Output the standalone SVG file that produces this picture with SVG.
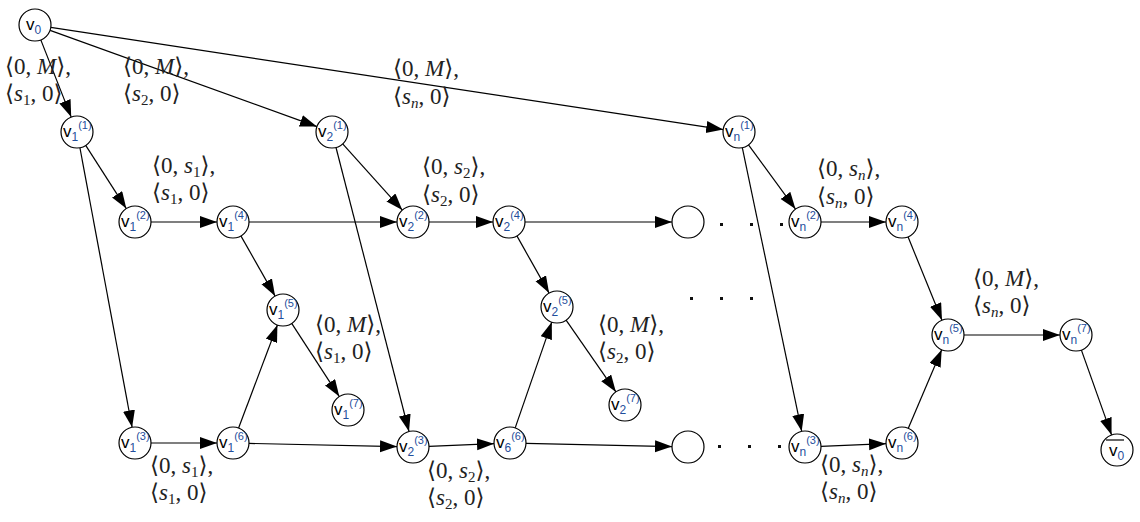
<svg xmlns="http://www.w3.org/2000/svg" width="1140" height="522" viewBox="0 0 1140 522">
<style>
.n{fill:#fff;stroke:#000;stroke-width:1.2}
.e{stroke:#000;stroke-width:1.2;fill:none;marker-end:url(#ah)}
.v{font-family:"Liberation Sans",Arial,sans-serif;font-size:17px;fill:#000}
.s{font-size:12px;fill:#1f4e9c}
.p{font-size:11px;fill:#1f4e9c}
.m{font-family:"Liberation Serif","DejaVu Serif",serif;font-size:23px;fill:#222}
.i{font-style:italic}
.b{font-size:15px}
.d{fill:#111}
</style>
<defs>
<marker id="ah" markerUnits="userSpaceOnUse" markerWidth="18" markerHeight="13" refX="17" refY="6" orient="auto">
<path d="M0,0 L17,6 L0,12 z" fill="#000"/>
</marker>
</defs>
<rect width="1140" height="522" fill="#fff"/>
<g id="edges">
<line class="e" x1="40.8" y1="39.9" x2="71.2" y2="117.1"/>
<line class="e" x1="50.1" y1="30.4" x2="316.9" y2="126.6"/>
<line class="e" x1="50.8" y1="27.4" x2="723.2" y2="129.6"/>
<line class="e" x1="85.7" y1="145.4" x2="126.3" y2="208.6"/>
<line class="e" x1="79.9" y1="147.7" x2="132.1" y2="427.3"/>
<line class="e" x1="151" y1="222" x2="217" y2="222"/>
<line class="e" x1="249" y1="222" x2="397" y2="222"/>
<line class="e" x1="240.9" y1="235.9" x2="275.1" y2="296.1"/>
<line class="e" x1="291.7" y1="323.4" x2="339.3" y2="396.6"/>
<line class="e" x1="151" y1="443" x2="217" y2="443"/>
<line class="e" x1="238.6" y1="428" x2="277.4" y2="325"/>
<line class="e" x1="249" y1="443.4" x2="397" y2="446.6"/>
<line class="e" x1="342.7" y1="143.9" x2="402.3" y2="210.1"/>
<line class="e" x1="336" y1="147.5" x2="409" y2="431.5"/>
<line class="e" x1="429" y1="222" x2="493" y2="222"/>
<line class="e" x1="525" y1="222" x2="672" y2="222"/>
<line class="e" x1="516.9" y1="235.9" x2="549.1" y2="293.1"/>
<line class="e" x1="566.1" y1="320.1" x2="615.9" y2="391.9"/>
<line class="e" x1="429" y1="446.3" x2="494" y2="443.7"/>
<line class="e" x1="515.2" y1="427.9" x2="551.8" y2="322.1"/>
<line class="e" x1="526" y1="443.4" x2="672" y2="446.6"/>
<line class="e" x1="748.5" y1="144.9" x2="795.5" y2="209.1"/>
<line class="e" x1="742.3" y1="147.7" x2="801.7" y2="431.3"/>
<line class="e" x1="821" y1="222" x2="886" y2="222"/>
<line class="e" x1="821" y1="446.3" x2="886" y2="443.7"/>
<line class="e" x1="908" y1="236.8" x2="942" y2="320.2"/>
<line class="e" x1="908.3" y1="428.3" x2="941.7" y2="349.7"/>
<line class="e" x1="964" y1="335" x2="1060" y2="335"/>
<line class="e" x1="1081.4" y1="350.1" x2="1111.6" y2="434.9"/>
</g>
<g id="labels">
<text class="m" x="5" y="74">⟨0, <tspan class="i">M</tspan>⟩,</text>
<text class="m" x="5" y="101">⟨<tspan class="i">s</tspan><tspan class="b" dy="4">1</tspan><tspan dy="-4">, 0⟩</tspan></text>
<text class="m" x="123" y="74">⟨0, <tspan class="i">M</tspan>⟩,</text>
<text class="m" x="123" y="101">⟨<tspan class="i">s</tspan><tspan class="b" dy="4">2</tspan><tspan dy="-4">, 0⟩</tspan></text>
<text class="m" x="393" y="76">⟨0, <tspan class="i">M</tspan>⟩,</text>
<text class="m" x="393" y="104">⟨<tspan class="i">s</tspan><tspan class="b i" dy="4">n</tspan><tspan dy="-4">, 0⟩</tspan></text>
<text class="m" x="152" y="173">⟨0, <tspan class="i">s</tspan><tspan class="b" dy="4">1</tspan><tspan dy="-4">⟩,</tspan></text>
<text class="m" x="152" y="200">⟨<tspan class="i">s</tspan><tspan class="b" dy="4">1</tspan><tspan dy="-4">, 0⟩</tspan></text>
<text class="m" x="422" y="174">⟨0, <tspan class="i">s</tspan><tspan class="b" dy="4">2</tspan><tspan dy="-4">⟩,</tspan></text>
<text class="m" x="422" y="202">⟨<tspan class="i">s</tspan><tspan class="b" dy="4">2</tspan><tspan dy="-4">, 0⟩</tspan></text>
<text class="m" x="817" y="176">⟨0, <tspan class="i">s</tspan><tspan class="b i" dy="4">n</tspan><tspan dy="-4">⟩,</tspan></text>
<text class="m" x="817" y="204">⟨<tspan class="i">s</tspan><tspan class="b i" dy="4">n</tspan><tspan dy="-4">, 0⟩</tspan></text>
<text class="m" x="315" y="332">⟨0, <tspan class="i">M</tspan>⟩,</text>
<text class="m" x="315" y="359">⟨<tspan class="i">s</tspan><tspan class="b" dy="4">1</tspan><tspan dy="-4">, 0⟩</tspan></text>
<text class="m" x="598" y="332">⟨0, <tspan class="i">M</tspan>⟩,</text>
<text class="m" x="598" y="359">⟨<tspan class="i">s</tspan><tspan class="b" dy="4">2</tspan><tspan dy="-4">, 0⟩</tspan></text>
<text class="m" x="150" y="473">⟨0, <tspan class="i">s</tspan><tspan class="b" dy="4">1</tspan><tspan dy="-4">⟩,</tspan></text>
<text class="m" x="150" y="500">⟨<tspan class="i">s</tspan><tspan class="b" dy="4">1</tspan><tspan dy="-4">, 0⟩</tspan></text>
<text class="m" x="427" y="478">⟨0, <tspan class="i">s</tspan><tspan class="b" dy="4">2</tspan><tspan dy="-4">⟩,</tspan></text>
<text class="m" x="427" y="505">⟨<tspan class="i">s</tspan><tspan class="b" dy="4">2</tspan><tspan dy="-4">, 0⟩</tspan></text>
<text class="m" x="820" y="472">⟨0, <tspan class="i">s</tspan><tspan class="b i" dy="4">n</tspan><tspan dy="-4">⟩,</tspan></text>
<text class="m" x="820" y="499">⟨<tspan class="i">s</tspan><tspan class="b i" dy="4">n</tspan><tspan dy="-4">, 0⟩</tspan></text>
<text class="m" x="973" y="286">⟨0, <tspan class="i">M</tspan>⟩,</text>
<text class="m" x="973" y="313">⟨<tspan class="i">s</tspan><tspan class="b i" dy="4">n</tspan><tspan dy="-4">, 0⟩</tspan></text>
</g>
<g id="dots">
<rect class="d" x="720" y="223" width="3" height="3"/>
<rect class="d" x="750" y="223" width="3" height="3"/>
<rect class="d" x="780" y="223" width="3" height="3"/>
<rect class="d" x="690" y="297" width="3" height="3"/>
<rect class="d" x="720" y="297" width="3" height="3"/>
<rect class="d" x="750" y="297" width="3" height="3"/>
<rect class="d" x="718" y="445" width="3" height="3"/>
<rect class="d" x="748" y="445" width="3" height="3"/>
<rect class="d" x="778" y="445" width="3" height="3"/>
</g>
<g id="v0"><circle class="n" cx="35" cy="25" r="16"/><text class="v" x="26" y="30">v<tspan class="s" dy="4">0</tspan></text></g>
<g id="v1_1"><circle class="n" cx="77" cy="132" r="16"/><text class="v" x="63" y="137">v<tspan class="s" dy="4">1</tspan><tspan class="p" dy="-12">(1)</tspan></text></g>
<g id="v1_2"><circle class="n" cx="135" cy="222" r="16"/><text class="v" x="121" y="227">v<tspan class="s" dy="4">1</tspan><tspan class="p" dy="-12">(2)</tspan></text></g>
<g id="v1_4"><circle class="n" cx="233" cy="222" r="16"/><text class="v" x="219" y="227">v<tspan class="s" dy="4">1</tspan><tspan class="p" dy="-12">(4)</tspan></text></g>
<g id="v1_5"><circle class="n" cx="283" cy="310" r="16"/><text class="v" x="269" y="315">v<tspan class="s" dy="4">1</tspan><tspan class="p" dy="-12">(5)</tspan></text></g>
<g id="v1_7"><circle class="n" cx="348" cy="410" r="16"/><text class="v" x="334" y="415">v<tspan class="s" dy="4">1</tspan><tspan class="p" dy="-12">(7)</tspan></text></g>
<g id="v1_3"><circle class="n" cx="135" cy="443" r="16"/><text class="v" x="121" y="448">v<tspan class="s" dy="4">1</tspan><tspan class="p" dy="-12">(3)</tspan></text></g>
<g id="v1_6"><circle class="n" cx="233" cy="443" r="16"/><text class="v" x="219" y="448">v<tspan class="s" dy="4">1</tspan><tspan class="p" dy="-12">(6)</tspan></text></g>
<g id="v2_1"><circle class="n" cx="332" cy="132" r="16"/><text class="v" x="318" y="137">v<tspan class="s" dy="4">2</tspan><tspan class="p" dy="-12">(1)</tspan></text></g>
<g id="v2_2"><circle class="n" cx="413" cy="222" r="16"/><text class="v" x="399" y="227">v<tspan class="s" dy="4">2</tspan><tspan class="p" dy="-12">(2)</tspan></text></g>
<g id="v2_4"><circle class="n" cx="509" cy="222" r="16"/><text class="v" x="495" y="227">v<tspan class="s" dy="4">2</tspan><tspan class="p" dy="-12">(4)</tspan></text></g>
<g id="v2_5"><circle class="n" cx="557" cy="307" r="16"/><text class="v" x="543" y="312">v<tspan class="s" dy="4">2</tspan><tspan class="p" dy="-12">(5)</tspan></text></g>
<g id="v2_7"><circle class="n" cx="625" cy="405" r="16"/><text class="v" x="611" y="410">v<tspan class="s" dy="4">2</tspan><tspan class="p" dy="-12">(7)</tspan></text></g>
<g id="v2_3"><circle class="n" cx="413" cy="447" r="16"/><text class="v" x="399" y="452">v<tspan class="s" dy="4">2</tspan><tspan class="p" dy="-12">(3)</tspan></text></g>
<g id="v6_6"><circle class="n" cx="510" cy="443" r="16"/><text class="v" x="496" y="448">v<tspan class="s" dy="4">6</tspan><tspan class="p" dy="-12">(6)</tspan></text></g>
<g id="empty_top"><circle class="n" cx="688" cy="222" r="16"/></g>
<g id="empty_bottom"><circle class="n" cx="688" cy="447" r="16"/></g>
<g id="vn_1"><circle class="n" cx="739" cy="132" r="16"/><text class="v" x="725" y="137">v<tspan class="s" dy="4">n</tspan><tspan class="p" dy="-12">(1)</tspan></text></g>
<g id="vn_2"><circle class="n" cx="805" cy="222" r="16"/><text class="v" x="791" y="227">v<tspan class="s" dy="4">n</tspan><tspan class="p" dy="-12">(2)</tspan></text></g>
<g id="vn_4"><circle class="n" cx="902" cy="222" r="16"/><text class="v" x="888" y="227">v<tspan class="s" dy="4">n</tspan><tspan class="p" dy="-12">(4)</tspan></text></g>
<g id="vn_3"><circle class="n" cx="805" cy="447" r="16"/><text class="v" x="791" y="452">v<tspan class="s" dy="4">n</tspan><tspan class="p" dy="-12">(3)</tspan></text></g>
<g id="vn_6"><circle class="n" cx="902" cy="443" r="16"/><text class="v" x="888" y="448">v<tspan class="s" dy="4">n</tspan><tspan class="p" dy="-12">(6)</tspan></text></g>
<g id="vn_5"><circle class="n" cx="948" cy="335" r="16"/><text class="v" x="934" y="340">v<tspan class="s" dy="4">n</tspan><tspan class="p" dy="-12">(5)</tspan></text></g>
<g id="vn_7"><circle class="n" cx="1076" cy="335" r="16"/><text class="v" x="1062" y="340">v<tspan class="s" dy="4">n</tspan><tspan class="p" dy="-12">(7)</tspan></text></g>
<g id="v0bar"><circle class="n" cx="1117" cy="450" r="16"/><line x1="1106" y1="440" x2="1124" y2="440" stroke="#000" stroke-width="1.2"/><text class="v" x="1109" y="456">v<tspan class="s" dy="4">0</tspan></text></g>
</svg>
